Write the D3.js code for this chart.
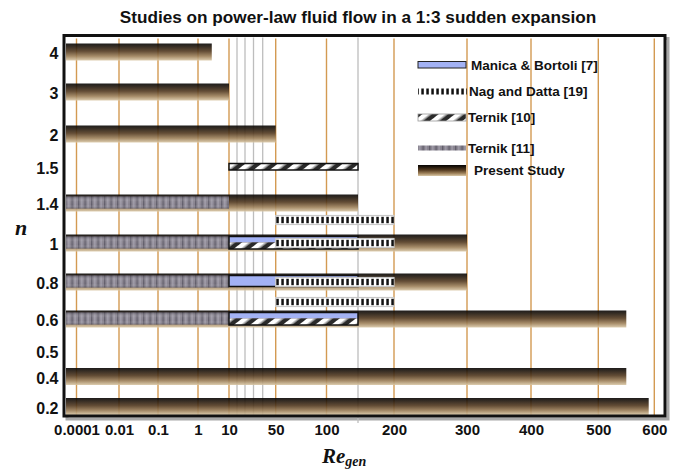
<!DOCTYPE html>
<html><head><meta charset="utf-8">
<script src="https://cdn.jsdelivr.net/npm/d3@7"></script>
<style>
body{margin:0;background:#fff;}
svg{display:block;font-family:"Liberation Sans",Arial,sans-serif;}
</style>
</head><body>
<svg id="chart" width="681" height="470"></svg>
<script>
// ---------------- data ----------------
const chartTitle = "Studies on power-law fluid flow in a 1:3 sudden expansion";
const xMajorTicks = [0.0001, 0.01, 0.1, 1, 10, 50, 100, 200, 300, 400, 500, 600];
const xTickLabels = ["0.0001", "0.01", "0.1", "1", "10", "50", "100", "200", "300", "400", "500", "600"];
const xMinorTicks = [15, 20, 30, 40, 150];
const nTicks = [0.2, 0.4, 0.5, 0.6, 0.8, 1, 1.4, 1.5, 2, 3, 4];
const nTickLabels = ["0.2", "0.4", "0.5", "0.6", "0.8", "1", "1.4", "1.5", "2", "3", "4"];

const presentN = [4, 3, 2, 1.4, 1, 0.8, 0.6, 0.4, 0.2];
const presentReMax = [5, 10, 50, 150, 300, 300, 550, 550, 590];
const ternik11N = [1.4, 1, 0.8, 0.6];
const ternik11Re = [0, 10];
const manicaN = [1, 0.8, 0.6];
const manicaRe = [10, 150];
const ternik10N = [1.5, 1, 0.6];
const ternik10Re = [10, 150];
const nagN = [1.2, 1, 0.8, 0.7];
const nagRe = [50, 200];
const legendNames = ["Manica & Bortoli [7]", "Nag and Datta [19]", "Ternik [10]", "Ternik [11]", "Present Study"];

// ---------------- scales ----------------
const x = d3.scaleLinear()
  .domain([0, 0.0001, 0.01, 0.1, 1, 10, 15, 20, 30, 40, 50, 100, 150, 200, 300, 400, 500, 600])
  .range([66, 76.5, 119, 158, 198, 229, 237, 245, 253.5, 262.7, 275.7, 326.5, 358, 394, 467, 531, 598.3, 654.3]);
const y = d3.scaleLinear()
  .domain([0.2, 0.4, 0.5, 0.6, 0.7, 0.8, 1, 1.2, 1.4, 1.5, 2, 3, 4])
  .range([406.5, 376.5, 351, 319, 302, 282, 243, 220, 203, 167, 134, 92, 52]);

const frame = {l: 64, t: 35.5, r: 665, b: 416};
const svg = d3.select("#chart");
const defs = svg.append("defs");

// gradient for present study
const pg = defs.append("linearGradient").attr("id", "presentGrad").attr("x1", 0).attr("y1", 0).attr("x2", 0).attr("y2", 1);
[[0, "#060403"], [0.15, "#1c130a"], [0.45, "#52391f"], [0.75, "#9c7f58"], [1, "#d9c7a6"]]
  .forEach(([o, c]) => pg.append("stop").attr("offset", o).attr("stop-color", c));

// Ternik [11] vertical stripes
const p11 = defs.append("pattern").attr("id", "t11").attr("patternUnits", "userSpaceOnUse")
  .attr("width", 6.5).attr("height", 40);
p11.append("rect").attr("width", 6.5).attr("height", 40).attr("fill", "#88838f");
p11.append("rect").attr("x", 0).attr("width", 1.3).attr("height", 40).attr("fill", "#615d6a");
p11.append("rect").attr("x", 3).attr("width", 1.4).attr("height", 40).attr("fill", "#a29eab");
const g11 = defs.append("linearGradient").attr("id", "t11shade").attr("x1", 0).attr("y1", 0).attr("x2", 0).attr("y2", 1);
[[0, "#3a3642", 0.5], [0.4, "#ffffff", 0.05], [0.7, "#ffffff", 0.0], [1, "#3a3642", 0.4]]
  .forEach(([o, c, a]) => g11.append("stop").attr("offset", o).attr("stop-color", c).attr("stop-opacity", a));

// Nag & Datta dashes
const pn = defs.append("pattern").attr("id", "nag").attr("patternUnits", "userSpaceOnUse")
  .attr("width", 5).attr("height", 40);
pn.append("rect").attr("x", 1.3).attr("width", 2.5).attr("height", 40).attr("fill", "#111");

// Ternik [10] diagonal hatch
const ph = defs.append("pattern").attr("id", "hatch").attr("patternUnits", "userSpaceOnUse")
  .attr("width", 10).attr("height", 10).attr("patternTransform", "rotate(52)");
ph.append("rect").attr("width", 10).attr("height", 10).attr("fill", "#2a2a2a");
ph.append("rect").attr("x", 0).attr("width", 4.8).attr("height", 10).attr("fill", "#ffffff");
ph.append("rect").attr("x", 4.8).attr("width", 1.2).attr("height", 10).attr("fill", "#8a8a8a");

// ---------------- title ----------------
svg.append("text").attr("x", 358).attr("y", 23).attr("text-anchor", "middle")
  .attr("font-size", 17.2).attr("font-weight", "bold").attr("fill", "#111").text(chartTitle);

// ---------------- frame shadow ----------------
svg.append("rect").attr("x", frame.l + 3).attr("y", frame.t + 3)
  .attr("width", frame.r - frame.l).attr("height", frame.b - frame.t)
  .attr("fill", "none").attr("stroke", "#a8a8a8").attr("stroke-width", 3);
svg.append("rect").attr("x", frame.l).attr("y", frame.t)
  .attr("width", frame.r - frame.l).attr("height", frame.b - frame.t).attr("fill", "#fff");

// ---------------- grid lines ----------------
svg.append("g").selectAll("line").data(xMinorTicks).join("line")
  .attr("x1", d => x(d)).attr("x2", d => x(d))
  .attr("y1", frame.t + 2).attr("y2", d => d === 150 ? frame.b + 7 : frame.b)
  .attr("stroke", "#bdbdbd").attr("stroke-width", 1.3);
svg.append("g").selectAll("line").data(xMajorTicks).join("line")
  .attr("x1", d => x(d)).attr("x2", d => x(d))
  .attr("y1", frame.t + 3).attr("y2", frame.b)
  .attr("stroke", "#d39a52").attr("stroke-width", 1.4);

// ---------------- present study ----------------
svg.append("g").selectAll("rect").data(presentN).join("rect")
  .attr("x", x(0)).attr("y", d => y(d) - 8.5)
  .attr("width", (d, i) => x(presentReMax[i]) - x(0)).attr("height", 17)
  .attr("fill", "url(#presentGrad)").attr("opacity", 0.9);

// ---------------- Ternik [11] ----------------
const t11g = svg.append("g");
t11g.selectAll("rect.b").data(ternik11N).join("rect").attr("class", "b")
  .attr("x", x(ternik11Re[0])).attr("y", d => y(d) - 6.5)
  .attr("width", x(ternik11Re[1]) - x(ternik11Re[0])).attr("height", 12)
  .attr("fill", "url(#t11)");
t11g.selectAll("rect.s").data(ternik11N).join("rect").attr("class", "s")
  .attr("x", x(ternik11Re[0])).attr("y", d => y(d) - 6.5)
  .attr("width", x(ternik11Re[1]) - x(ternik11Re[0])).attr("height", 12)
  .attr("fill", "url(#t11shade)");

// ---------------- Manica & Ternik [10] ----------------
const mg = svg.append("g");
manicaN.forEach(n => {
  const shared = ternik10N.includes(n);
  mg.append("rect").attr("x", x(manicaRe[0])).attr("y", y(n) - 6.5)
    .attr("width", x(manicaRe[1]) - x(manicaRe[0])).attr("height", shared ? 6 : 11)
    .attr("fill", "#a3b2f4");
});
ternik10N.forEach(n => {
  const shared = manicaN.includes(n);
  const top = shared ? y(n) - 0.5 : y(n) - 3.5;
  mg.append("rect").attr("x", x(ternik10Re[0])).attr("y", top)
    .attr("width", x(ternik10Re[1]) - x(ternik10Re[0])).attr("height", 6.5)
    .attr("fill", "url(#hatch)");
  if (!shared) {
    mg.append("rect").attr("x", x(ternik10Re[0])).attr("y", top)
      .attr("width", x(ternik10Re[1]) - x(ternik10Re[0])).attr("height", 6.5)
      .attr("fill", "none").attr("stroke", "#111").attr("stroke-width", 1.5);
  }
});
manicaN.forEach(n => {
  const shared = ternik10N.includes(n);
  mg.append("rect").attr("x", x(manicaRe[0])).attr("y", y(n) - 6.5)
    .attr("width", x(manicaRe[1]) - x(manicaRe[0])).attr("height", shared ? 12.5 : 11)
    .attr("fill", "none").attr("stroke", "#111").attr("stroke-width", 1.5);
});

// ---------------- Nag and Datta ----------------
const ng = svg.append("g");
ng.selectAll("rect.w").data(nagN).join("rect").attr("class", "w")
  .attr("x", x(nagRe[0])).attr("y", d => y(d) - 4.5)
  .attr("width", x(nagRe[1]) - x(nagRe[0])).attr("height", 9)
  .attr("fill", "#fff").attr("stroke", "#c8c8c8").attr("stroke-width", 1.2);
ng.selectAll("rect.d").data(nagN).join("rect").attr("class", "d")
  .attr("x", x(nagRe[0])).attr("y", d => y(d) - 3.2)
  .attr("width", x(nagRe[1]) - x(nagRe[0])).attr("height", 6.4)
  .attr("fill", "url(#nag)");

// ---------------- frame ----------------
svg.append("rect").attr("x", frame.l).attr("y", frame.t)
  .attr("width", frame.r - frame.l).attr("height", frame.b - frame.t)
  .attr("fill", "none").attr("stroke", "#111").attr("stroke-width", 3);

// ---------------- axes ----------------
const xAxis = d3.axisBottom(x).tickValues(xMajorTicks)
  .tickFormat((d, i) => xTickLabels[i]).tickSize(0).tickPadding(8);
const gx = svg.append("g").attr("transform", `translate(0,${frame.b})`).call(xAxis);
gx.select(".domain").remove();
gx.selectAll("text").attr("font-size", 15).attr("font-weight", "bold")
  .attr("fill", "#111").attr("font-family", "Liberation Sans, Arial, sans-serif");

const yAxis = d3.axisLeft(y).tickValues(nTicks)
  .tickFormat((d, i) => nTickLabels[i]).tickSize(0).tickPadding(4);
const gy = svg.append("g").attr("transform", `translate(${frame.l - 1.5},0)`).call(yAxis);
gy.select(".domain").remove();
gy.selectAll("text").attr("font-size", 16).attr("font-weight", "bold").attr("dy", "0.42em")
  .attr("fill", "#111").attr("font-family", "Liberation Sans, Arial, sans-serif");

// axis titles
const xt = svg.append("text").attr("x", 322).attr("y", 463)
  .attr("font-family", "Liberation Serif, Times New Roman, serif")
  .attr("font-style", "italic").attr("font-weight", "bold").attr("fill", "#111");
xt.append("tspan").attr("font-size", 21).text("Re");
xt.append("tspan").attr("font-size", 14).attr("dy", 3).text("gen");

svg.append("text").attr("x", 15).attr("y", 235)
  .attr("font-family", "Liberation Serif, Times New Roman, serif")
  .attr("font-style", "italic").attr("font-weight", "bold").attr("font-size", 22)
  .attr("fill", "#111").text("n");

// ---------------- legend ----------------
const lg = svg.append("g");
const lx = 418, lw = 48;
const legendY = [65, 91.5, 117.5, 148, 170.5];
lg.append("rect").attr("x", lx).attr("y", legendY[0] - 3.5).attr("width", lw).attr("height", 6.5)
  .attr("fill", "#a3b2f4").attr("stroke", "#222").attr("stroke-width", 1);
lg.append("rect").attr("x", lx).attr("y", legendY[1] - 3).attr("width", lw + 1).attr("height", 6)
  .attr("fill", "url(#nag)");
lg.append("rect").attr("x", lx).attr("y", legendY[2] - 3.5).attr("width", lw).attr("height", 7)
  .attr("fill", "url(#hatch)").attr("stroke", "#999").attr("stroke-width", 0.8);
lg.append("rect").attr("x", lx).attr("y", legendY[3] - 2.5).attr("width", lw).attr("height", 5)
  .attr("fill", "url(#t11)");
lg.append("rect").attr("x", lx).attr("y", legendY[4] - 5.5).attr("width", lw).attr("height", 11)
  .attr("fill", "url(#presentGrad)");
const legendTextX = [471, 469, 468, 468, 474];
lg.selectAll("text").data(legendNames).join("text")
  .attr("x", (d, i) => legendTextX[i]).attr("y", (d, i) => legendY[i])
  .attr("dy", "0.36em").attr("font-size", 13.5).attr("font-weight", "bold").attr("fill", "#111")
  .text(d => d);
</script>
</body></html>
